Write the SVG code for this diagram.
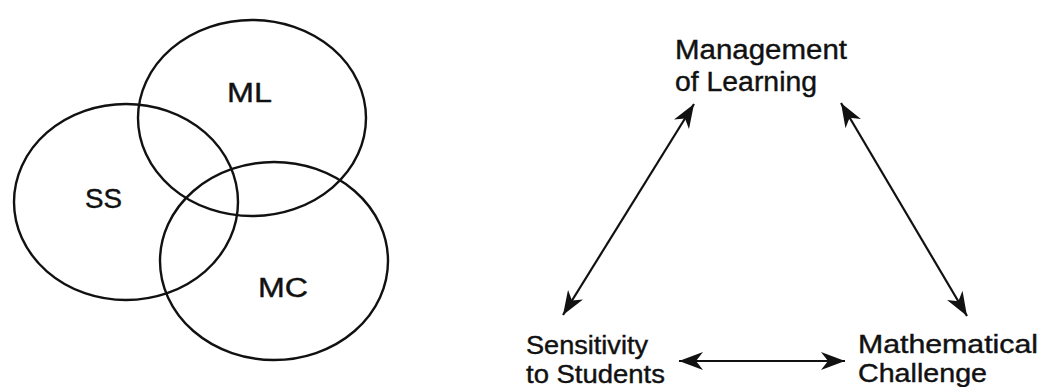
<svg xmlns="http://www.w3.org/2000/svg" width="1041" height="387" viewBox="0 0 1041 387">
<style>
.ring{fill:none;stroke:#111;stroke-width:2.4}
.lbl{font-family:"Liberation Sans",Arial,sans-serif;font-size:27px;fill:#111;stroke:#111;stroke-width:0.4}
.sm{font-size:25px}
.conn{stroke:#111;stroke-width:2.2;fill:none;marker-start:url(#ah);marker-end:url(#ah)}
</style>
<defs>
<marker id="ah" viewBox="-24 -9 24 18" refX="0" refY="0" markerWidth="24" markerHeight="18" markerUnits="userSpaceOnUse" orient="auto-start-reverse">
<path d="M0,0 L-24,-9 L-17,0 L-24,9 Z" fill="#111"/>
</marker>
</defs>
<rect width="1041" height="387" fill="#fff"/>
<g id="venn-ML"><ellipse class="ring" cx="252" cy="118" rx="114" ry="98"/><text class="lbl" x="227" y="102" textLength="45" lengthAdjust="spacingAndGlyphs">ML</text></g>
<g id="venn-SS"><ellipse class="ring" cx="126" cy="202" rx="112" ry="98"/><text class="lbl" x="85" y="208" textLength="37" lengthAdjust="spacingAndGlyphs">SS</text></g>
<g id="venn-MC"><ellipse class="ring" cx="274" cy="261" rx="114" ry="99"/><text class="lbl" x="258" y="297" textLength="50" lengthAdjust="spacingAndGlyphs">MC</text></g>
<g id="node-ML"><text class="lbl" x="675" y="59" textLength="172" lengthAdjust="spacingAndGlyphs">Management</text><text class="lbl" x="675" y="91" textLength="142" lengthAdjust="spacingAndGlyphs">of Learning</text></g>
<g id="node-SS"><text class="lbl sm" x="526" y="354" textLength="122" lengthAdjust="spacingAndGlyphs">Sensitivity</text><text class="lbl sm" x="526" y="383" textLength="139" lengthAdjust="spacingAndGlyphs">to Students</text></g>
<g id="node-MC"><text class="lbl sm" x="858" y="353" textLength="180" lengthAdjust="spacingAndGlyphs">Mathematical</text><text class="lbl sm" x="858" y="382" textLength="129" lengthAdjust="spacingAndGlyphs">Challenge</text></g>
<g id="connectors">
<line class="conn" x1="694" y1="104" x2="563" y2="315"/>
<line class="conn" x1="841" y1="103" x2="967" y2="316"/>
<line class="conn" x1="679" y1="361" x2="845" y2="361"/>
</g>
</svg>
